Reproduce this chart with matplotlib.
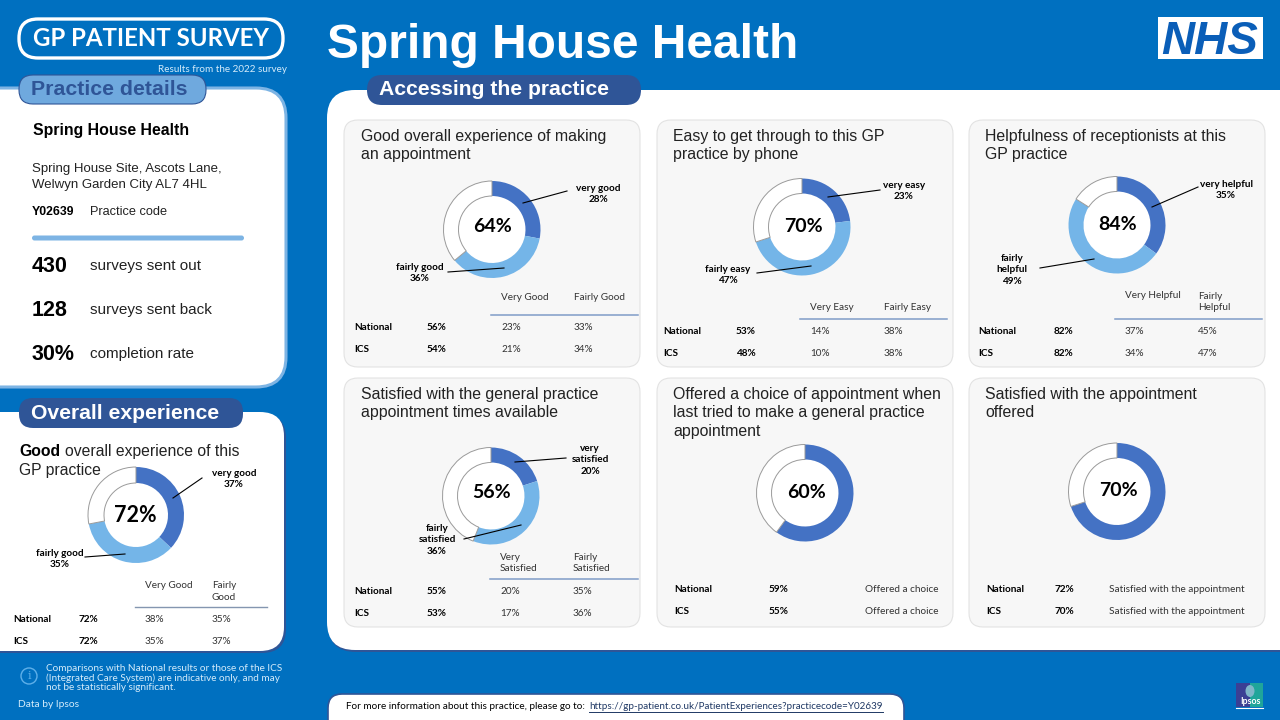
import matplotlib
matplotlib.use("Agg")
import matplotlib.pyplot as plt
from matplotlib.patches import FancyBboxPatch, Rectangle, Circle, Ellipse

W, H = 1280, 720
BLUE = "#0070C0"
NAVY = "#2F5597"
LIGHT = "#6FA9DE"
DONUT1 = "#4472C4"
DONUT2 = "#74B5E8"
CARD = "#F7F7F7"
SANS = "Liberation Sans"
CAL = "Lato"
SMALL = 7.2

# chart data
card_titles = [
    "Good overall experience of making\nan appointment",
    "Easy to get through to this GP\npractice by phone",
    "Helpfulness of receptionists at this\nGP practice",
    "Satisfied with the general practice\nappointment times available",
    "Offered a choice of appointment when\nlast tried to make a general practice\nappointment",
    "Satisfied with the appointment\noffered",
]
centre_pct = [64, 70, 84, 56, 60, 70]
top_values = [28, 23, 35, 20, 60, 70]
second_values = [36, 47, 49, 36, 0, 0]
top_labels = ["very good\n28%", "very easy\n23%", "very helpful\n35%", "very\nsatisfied\n20%", "", ""]
second_labels = ["fairly good\n36%", "fairly easy\n47%", "fairly\nhelpful\n49%", "fairly\nsatisfied\n36%", "", ""]
head_a = ["Very Good", "Very Easy", "Very Helpful", "Very\nSatisfied", "", ""]
head_b = ["Fairly Good", "Fairly Easy", "Fairly\nHelpful", "Fairly\nSatisfied", "", ""]
national_total = [56, 53, 82, 55, 59, 72]
ics_total = [54, 48, 82, 53, 55, 70]
national_a = ["23%", "14%", "37%", "20%", "Offered a choice", "Satisfied with the appointment"]
national_b = ["33%", "38%", "45%", "35%", "", ""]
ics_a = ["21%", "10%", "34%", "17%", "Offered a choice", "Satisfied with the appointment"]
ics_b = ["34%", "38%", "47%", "36%", "", ""]

overall_pct = 72
overall_values = [37, 35]
overall_national = ["72%", "38%", "35%"]
overall_ics = ["72%", "35%", "37%"]

details_counts = ["430", "128", "30%"]
details_names = ["surveys sent out", "surveys sent back", "completion rate"]

# layout, in pixels of the picture
card_boxes = [(344, 120), (657, 120), (969, 120), (344, 378), (657, 378), (969, 378)]
title_x = [361, 673, 985, 361, 673, 985]
donut_centres = [(492, 229.5), (802, 227), (1117, 225), (491, 496), (805, 493), (1117, 491.5)]
centre_text_y = [226, 225.5, 223, 491, 491, 490]
top_label_xy = [(598, 193), (904, 190), (1226, 189), (590, 459)]
second_label_xy = [(420, 272), (728, 274), (1012, 269), (437, 539)]
top_leaders = [((523, 203), (567, 191)), ((828, 197), (880, 190)), ((1152, 207), (1198, 187)), ((515, 462), (566, 458))]
second_leaders = [((448, 272), (504, 268)), ((757, 273), (811, 266)), ((1040, 268), (1094, 259)), ((464, 539), (521, 525))]
table_x = [(354, 427, 501, 574), (663, 736, 810, 884), (978, 1054, 1125, 1198),
           (354, 427, 500, 573), (674, 769, 865, 0), (986, 1055, 1109, 0)]
table_y = [(326, 348), (330, 353), (331, 353), (590, 612), (588, 611), (588, 611)]
head_y = [296, 306, 295, 556]
rule_y = [315, 319, 319, 579]
rule_x = [(491, 638), (800, 947), (1115, 1262), (490, 638)]

fig = plt.figure(figsize=(W / 100, H / 100), dpi=100, facecolor=BLUE)
ax = fig.add_axes([0, 0, 1, 1], zorder=0)
top = fig.add_axes([0, 0, 1, 1], zorder=5)
for a in (ax, top):
    a.set_xlim(0, W)
    a.set_ylim(H, 0)
    a.axis("off")
top.patch.set_alpha(0)


def rbox(x0, y0, x1, y1, r, fc, ec="none", lw=0, axis=ax, z=1):
    p = FancyBboxPatch((x0, y0), x1 - x0, y1 - y0, boxstyle=f"round,pad=0,rounding_size={r}",
                       fc=fc, ec=ec, lw=lw, zorder=z)
    axis.add_patch(p)


def txt(x, y, s, size, color="black", weight="normal", ha="left", va="center", family=CAL, linespacing=1.2):
    return top.text(x, y + 1, s, fontsize=size, color=color, fontweight=weight, ha=ha, va=va,
                    family=family, linespacing=linespacing)


def donut(cx, cy, vals, colors, r=48.5, rin=33.5):
    pad = 1.03
    s = r * pad
    d = fig.add_axes([(cx - s) / W, 1 - (cy + s) / H, 2 * s / W, 2 * s / H], zorder=3)
    d.add_patch(Circle((0, 0), rin / r, fc="white", ec="none"))
    wedges, _ = d.pie(vals, colors=colors, startangle=90, counterclock=False, radius=1,
                      wedgeprops=dict(width=1 - rin / r))
    for w, c in zip(wedges, colors):
        if c == "white":
            w.set_edgecolor("#9A9A9A")
            w.set_linewidth(0.7)
    d.set_xlim(-pad, pad)
    d.set_ylim(-pad, pad)
    d.patch.set_alpha(0)


# header
rbox(19, 19, 283, 58, 19, BLUE, "white", 2.4)
txt(151, 38, "GP PATIENT SURVEY", 17.3, "white", "bold", ha="center")
txt(287, 68, "Results from the 2022 survey", 7.1, "#D5ECFB", ha="right")
txt(327, 44, "Spring House Health", 34.5, "white", "bold", family=SANS)
ax.add_patch(Rectangle((1158, 17), 105, 42, fc="white", zorder=1))
txt(1210, 41, "NHS", 33, "#0A5EB8", "bold", ha="center", family=SANS).set_style("italic")

# practice details panel
rbox(-40, 88, 286, 387, 30, "white", "#7DB4E4", 2.2)
rbox(19, 75, 206, 104, 14, LIGHT, NAVY, 0.8)
txt(31, 88.5, "Practice details", 15.3, NAVY, "bold", family=SANS)
txt(33, 129, "Spring House Health", 11.4, "black", "bold", family=SANS)
txt(32, 176, "Spring House Site, Ascots Lane,\nWelwyn Garden City AL7 4HL", 9.5, "#222222", family=SANS, linespacing=1.35)
txt(32, 211, "Y02639", 8.8, "black", "bold", family=SANS)
txt(90, 211, "Practice code", 9.2, "#222222", family=SANS)
rbox(32, 235.5, 244, 240.5, 2.5, "#7DB4E4")
for yy, c, n in zip([265, 309, 353], details_counts, details_names):
    txt(32, yy, c, 15.5, "black", "bold", family=SANS)
    txt(90, yy, n, 11, "#222222", family=SANS)

# overall experience panel
rbox(-40, 414, 286, 653, 24, NAVY)
rbox(-40, 412, 284, 651, 24, "white")
rbox(19, 398, 243, 428, 14, NAVY)
txt(31, 412.5, "Overall experience", 15.2, "white", "bold", family=SANS)
txt(19, 450.5, "Good", 11.3, "black", "bold", family=SANS)
txt(65, 450.5, "overall experience of this", 11.3, "#222222", family=SANS)
txt(19, 470, "GP practice", 11.3, "#222222", family=SANS)
donut(136, 515, overall_values + [100 - sum(overall_values)], [DONUT1, DONUT2, "white"], r=48, rin=32)
txt(135, 514, f"{overall_pct}%", 15.5, "black", "bold", ha="center")
txt(234, 478, "very good\n37%", SMALL, "black", "bold", ha="center", linespacing=1.4)
txt(60, 558, "fairly good\n35%", SMALL, "black", "bold", ha="center", linespacing=1.4)
top.plot([173, 202], [498, 478], color="black", lw=0.8)
top.plot([85, 125], [557, 554], color="black", lw=0.8)
txt(145, 584, "Very Good", SMALL, "#333333")
txt(212, 590.5, "Fairly\nGood", SMALL, "#333333", linespacing=1.3)
top.plot([135, 267], [607, 607], color="#8496B0", lw=1)
for yy, row, name in zip([619, 641], [overall_national, overall_ics], ["National", "ICS"]):
    txt(13, yy, name, SMALL, "black", "bold")
    txt(79, yy, row[0], SMALL, "black", "bold")
    txt(145, yy, row[1], SMALL, "#333333")
    txt(212, yy, row[2], SMALL, "#333333")

# main panel
rbox(328, 92, 1330, 652, 28, NAVY)
rbox(327, 90, 1330, 650, 28, "white")
rbox(367, 75, 641, 105, 15, NAVY)
txt(379, 88.5, "Accessing the practice", 15.2, "white", "bold", family=SANS)

for i, title in enumerate(card_titles):
    x0, y0 = card_boxes[i]
    rbox(x0, y0, x0 + 296, y0 + (247 if i < 3 else 249), 14, CARD, "#E3E3E3", 0.8)
    txt(title_x[i], y0 + 24.5 + 9.5 * (title.count("\n") - 1), title, 11.4, "#222222", family=SANS, linespacing=1.32)
    cx, cy = donut_centres[i]
    vals = [top_values[i]]
    cols = [DONUT1]
    if second_values[i]:
        vals.append(second_values[i])
        cols.append(DONUT2)
    vals.append(100 - sum(vals))
    cols.append("white")
    donut(cx, cy, vals, cols)
    txt(cx + 1, centre_text_y[i], f"{centre_pct[i]}%", 14, "black", "bold", ha="center")
    if i < 4:
        txt(*top_label_xy[i], top_labels[i], SMALL, "black", "bold", ha="center", linespacing=1.4)
        txt(*second_label_xy[i], second_labels[i], SMALL, "black", "bold", ha="center", linespacing=1.4)
        for (a, b) in (top_leaders[i], second_leaders[i]):
            top.plot([a[0], b[0]], [a[1], b[1]], color="black", lw=0.8)
        top.plot(rule_x[i], [rule_y[i], rule_y[i]], color="#7F9CC8", lw=1.1)
        hy = head_y[i]
        txt(table_x[i][2], hy + (6 if "\n" in head_a[i] else 0), head_a[i], SMALL, "#333333", linespacing=1.3)
        txt(table_x[i][3], hy + (6 if "\n" in head_b[i] else 0), head_b[i], SMALL, "#333333", linespacing=1.3)
    xs = table_x[i]
    ys = table_y[i]
    txt(xs[0], ys[0], "National", SMALL, "black", "bold")
    txt(xs[0], ys[1], "ICS", SMALL, "black", "bold")
    txt(xs[1], ys[0], f"{national_total[i]}%", SMALL, "black", "bold")
    txt(xs[1], ys[1], f"{ics_total[i]}%", SMALL, "black", "bold")
    txt(xs[2], ys[0], national_a[i], SMALL, "#333333")
    txt(xs[2], ys[1], ics_a[i], SMALL, "#333333")
    if national_b[i]:
        txt(xs[3], ys[0], national_b[i], SMALL, "#333333")
        txt(xs[3], ys[1], ics_b[i], SMALL, "#333333")

# footer
ax.add_patch(Circle((29, 676), 8, fc="none", ec="#5FB0EA", lw=1))
txt(29, 675, "i", 8, "#5FB0EA", ha="center", family="DejaVu Serif")
txt(46, 677, "Comparisons with National results or those of the ICS\n(Integrated Care System) are indicative only, and may\nnot be statistically significant.",
    7.2, "#D5ECFB", linespacing=1.05)
txt(18, 703.5, "Data by Ipsos", 7.4, "#D5ECFB")
rbox(328, 694, 904, 740, 14, "white", NAVY, 1.2)
txt(346, 705.5, "For more information about this practice, please go to:", 7.2, "black")
txt(589, 705.5, "https://gp-patient.co.uk/PatientExperiences?practicecode=Y02639", 7.15, "#1F3864")
top.plot([589, 883], [712, 712], color="#1F3864", lw=0.7)
ax.add_patch(Rectangle((1236, 683), 14, 24, fc="#3B3F94", zorder=1))
ax.add_patch(Rectangle((1250, 683), 13, 24, fc="#1FA59A", zorder=1))
ax.add_patch(Ellipse((1250, 691), 9, 12, fc="#7FB6C9", zorder=2))
top.plot([1236, 1263], [707.5, 707.5], color="white", lw=0.8)
txt(1250, 700.5, "Ipsos", 6.4, "white", "bold", ha="center")

fig.savefig("out.png", dpi=100, facecolor=BLUE)
